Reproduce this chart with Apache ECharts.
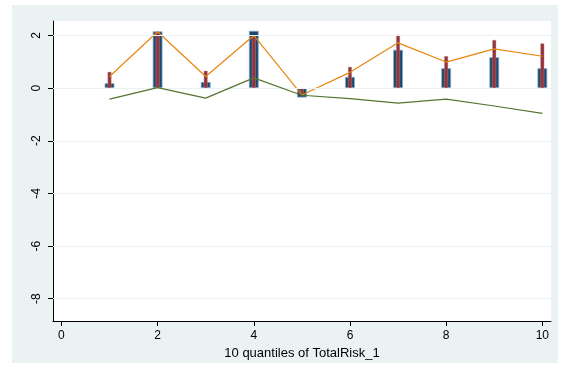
<!DOCTYPE html>
<html>
<head>
<meta charset="utf-8">
<script src="https://cdn.jsdelivr.net/npm/echarts@6/dist/echarts.min.js"></script>
<style>html,body{margin:0;padding:0;background:#fff}#c{width:563px;height:365px}</style>
</head>
<body>
<div id="c"></div>
<script>
var quantiles = [1, 2, 3, 4, 5, 6, 7, 8, 9, 10];
var navyBars = [0.19, 2.16, 0.24, 2.18, -0.36, 0.43, 1.46, 0.76, 1.18, 0.76];
var maroonBars = [0.62, 2.12, 0.66, 1.95, -0.20, 0.81, 2.03, 1.22, 1.83, 1.70];
var orangeLine = [0.44, 2.14, 0.44, 2.00, -0.26, 0.60, 1.72, 0.99, 1.49, 1.21];
var greenLine = [-0.42, 0.02, -0.38, 0.39, -0.27, -0.40, -0.57, -0.42, -0.68, -0.96];
var xTicks = [0, 2, 4, 6, 8, 10];
var yTicks = [-8, -6, -4, -2, 0, 2];

function pairs(v) { return quantiles.map(function (q, i) { return [q, v[i]]; }); }

var chart = echarts.init(document.getElementById('c'), null, {renderer: 'canvas'});
var font = 'Liberation Sans, Arial, sans-serif';
var xCommon = {
  type: 'value', min: -0.175, max: 10.18,
  axisLine: {show: true, onZero: false, lineStyle: {color: '#000', width: 1}},
  splitLine: {show: false}
};
chart.setOption({
  backgroundColor: '#ffffff',
  animation: false,
  graphic: {elements: [{type: 'rect', z: -100, shape: {x: 12, y: 5, width: 546, height: 358}, style: {fill: '#eaf2f3'}}]},
  grid: {left: 53, top: 21, right: 12, bottom: 43, show: true, backgroundColor: '#ffffff', borderWidth: 0},
  xAxis: [
    Object.assign({}, xCommon, {
      axisTick: {show: true, customValues: xTicks, length: 5, lineStyle: {color: '#000'}},
      axisLabel: {show: true, customValues: xTicks, color: '#000', fontSize: 12, fontFamily: font, margin: 9},
      name: '10 quantiles of TotalRisk_1', nameLocation: 'middle', nameGap: 24,
      nameTextStyle: {color: '#000', fontSize: 13, fontFamily: font}
    }),
    Object.assign({}, xCommon, {show: false})
  ],
  yAxis: {
    type: 'value', min: -8.85, max: 2.55,
    axisLine: {show: true, onZero: false, lineStyle: {color: '#000', width: 1}},
    axisTick: {show: true, customValues: yTicks, length: 5, lineStyle: {color: '#000'}},
    axisLabel: {show: true, customValues: yTicks, rotate: 90, color: '#000', fontSize: 12, fontFamily: font, margin: 10},
    splitLine: {show: false}
  },
  series: [
    {
      type: 'line', data: [], silent: true, z: 0,
      markLine: {silent: true, symbol: 'none', label: {show: false},
        lineStyle: {color: '#eaf2f3', type: 'solid', width: 1},
        data: yTicks.map(function (t) { return {yAxis: t}; })}
    },
    {
      type: 'bar', xAxisIndex: 0, data: pairs(navyBars), barWidth: 10, z: 2,
      itemStyle: {color: '#1a476f', borderColor: 'rgba(140,170,200,0.8)', borderWidth: 1}
    },
    {
      type: 'bar', xAxisIndex: 1, data: pairs(maroonBars), barWidth: 4, z: 3,
      itemStyle: {color: '#90353b', borderColor: 'rgba(200,140,145,0.7)', borderWidth: 0.6}
    },
    {
      type: 'line', xAxisIndex: 0, data: pairs(orangeLine), symbol: 'none', z: 4,
      lineStyle: {color: '#e8850d', width: 1.2}
    },
    {
      type: 'line', xAxisIndex: 0, data: pairs(greenLine), symbol: 'none', z: 5,
      lineStyle: {color: '#55752f', width: 1.2}
    }
  ]
});
</script>
</body>
</html>
